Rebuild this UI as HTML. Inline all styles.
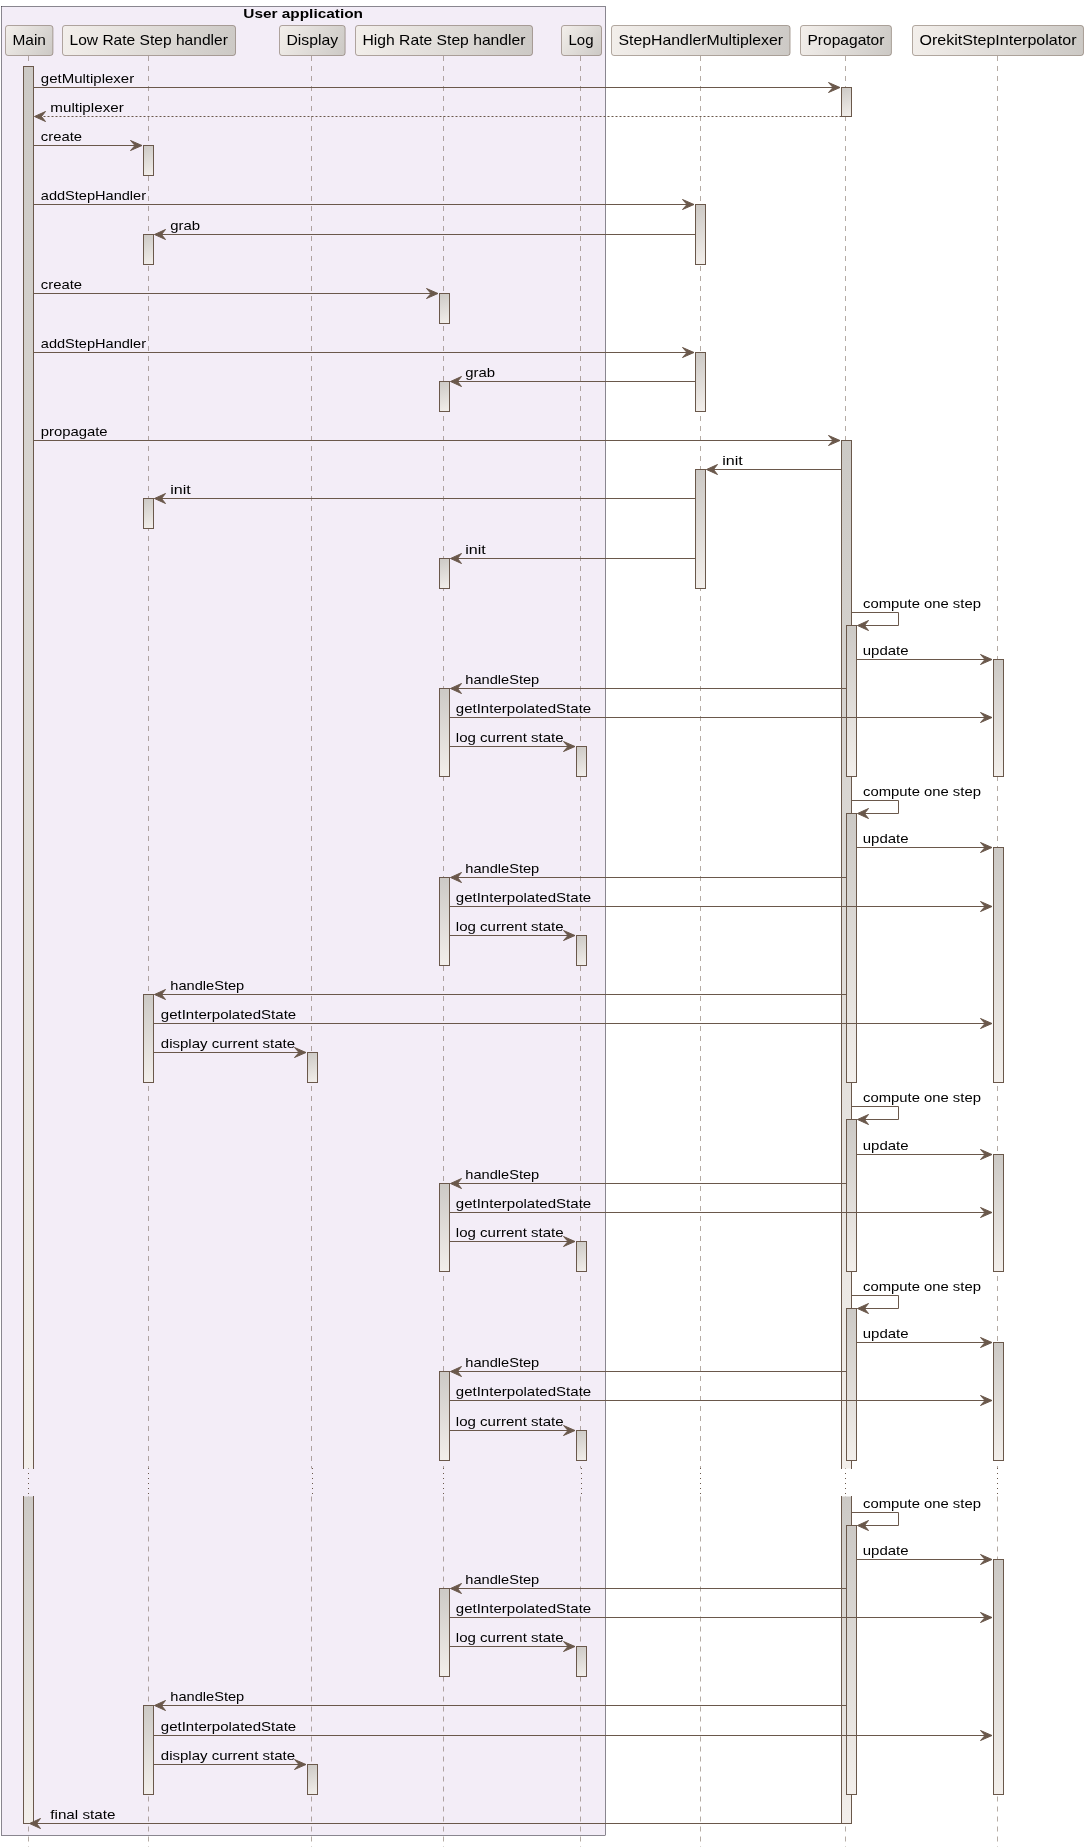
<!DOCTYPE html><html><head><meta charset="utf-8"><style>html,body{margin:0;padding:0;background:#fff;}svg{display:block;will-change:transform;}</style></head><body>
<svg width="1088" height="1847" viewBox="0 0 1088 1847">
<defs>
<linearGradient id="gp" x1="0%" y1="0%" x2="100%" y2="100%"><stop offset="0%" stop-color="#F3EFEB"/><stop offset="100%" stop-color="#CCC9C5"/></linearGradient>
<linearGradient id="gl" x1="0%" y1="0%" x2="100%" y2="100%"><stop offset="0%" stop-color="#CCC9C5"/><stop offset="100%" stop-color="#F3EFEB"/></linearGradient>
</defs>
<rect x="0" y="0" width="1088" height="1847" fill="#FFFFFF"/>
<rect x="1.5" y="6.5" width="604" height="1829" fill="#F3EDF7" stroke="#1B1625" stroke-width="0.5"/>
<text x="243.3" y="18" font-family='"Liberation Sans", sans-serif' font-size="13.5" font-weight="bold" fill="#000" textLength="119.67" lengthAdjust="spacingAndGlyphs">User application</text>
<line x1="28.5" y1="56" x2="28.5" y2="1468.5" stroke="#6A584B" stroke-width="0.5" stroke-dasharray="5,5"/>
<line x1="28.5" y1="1468" x2="28.5" y2="1496" stroke="#6A584B" stroke-width="1" stroke-dasharray="1,4"/>
<line x1="28.5" y1="1496.5" x2="28.5" y2="1847" stroke="#6A584B" stroke-width="0.5" stroke-dasharray="5,5"/>
<line x1="148.5" y1="56" x2="148.5" y2="1468.5" stroke="#6A584B" stroke-width="0.5" stroke-dasharray="5,5"/>
<line x1="148.5" y1="1468" x2="148.5" y2="1496" stroke="#6A584B" stroke-width="1" stroke-dasharray="1,4"/>
<line x1="148.5" y1="1496.5" x2="148.5" y2="1847" stroke="#6A584B" stroke-width="0.5" stroke-dasharray="5,5"/>
<line x1="311.5" y1="56" x2="311.5" y2="1468.5" stroke="#6A584B" stroke-width="0.5" stroke-dasharray="5,5"/>
<line x1="312.5" y1="1468" x2="312.5" y2="1496" stroke="#6A584B" stroke-width="1" stroke-dasharray="1,4"/>
<line x1="311.5" y1="1496.5" x2="311.5" y2="1847" stroke="#6A584B" stroke-width="0.5" stroke-dasharray="5,5"/>
<line x1="443.5" y1="56" x2="443.5" y2="1468.5" stroke="#6A584B" stroke-width="0.5" stroke-dasharray="5,5"/>
<line x1="443.5" y1="1468" x2="443.5" y2="1496" stroke="#6A584B" stroke-width="1" stroke-dasharray="1,4"/>
<line x1="443.5" y1="1496.5" x2="443.5" y2="1847" stroke="#6A584B" stroke-width="0.5" stroke-dasharray="5,5"/>
<line x1="580.5" y1="56" x2="580.5" y2="1468.5" stroke="#6A584B" stroke-width="0.5" stroke-dasharray="5,5"/>
<line x1="581.5" y1="1468" x2="581.5" y2="1496" stroke="#6A584B" stroke-width="1" stroke-dasharray="1,4"/>
<line x1="580.5" y1="1496.5" x2="580.5" y2="1847" stroke="#6A584B" stroke-width="0.5" stroke-dasharray="5,5"/>
<line x1="700.5" y1="56" x2="700.5" y2="1468.5" stroke="#6A584B" stroke-width="0.5" stroke-dasharray="5,5"/>
<line x1="700.5" y1="1468" x2="700.5" y2="1496" stroke="#6A584B" stroke-width="1" stroke-dasharray="1,4"/>
<line x1="700.5" y1="1496.5" x2="700.5" y2="1847" stroke="#6A584B" stroke-width="0.5" stroke-dasharray="5,5"/>
<line x1="845.5" y1="56" x2="845.5" y2="1468.5" stroke="#6A584B" stroke-width="0.5" stroke-dasharray="5,5"/>
<line x1="845.5" y1="1468" x2="845.5" y2="1496" stroke="#6A584B" stroke-width="1" stroke-dasharray="1,4"/>
<line x1="845.5" y1="1496.5" x2="845.5" y2="1847" stroke="#6A584B" stroke-width="0.5" stroke-dasharray="5,5"/>
<line x1="997.5" y1="56" x2="997.5" y2="1468.5" stroke="#6A584B" stroke-width="0.5" stroke-dasharray="5,5"/>
<line x1="997.5" y1="1468" x2="997.5" y2="1496" stroke="#6A584B" stroke-width="1" stroke-dasharray="1,4"/>
<line x1="997.5" y1="1496.5" x2="997.5" y2="1847" stroke="#6A584B" stroke-width="0.5" stroke-dasharray="5,5"/>
<linearGradient id="hpU" gradientUnits="userSpaceOnUse" x1="5.5" y1="25.5" x2="52.92" y2="55.5"><stop offset="0" stop-color="#F3EFEB"/><stop offset="1" stop-color="#CCC9C5"/></linearGradient>
<rect x="5.5" y="25.5" width="47.42" height="30" rx="2.5" ry="2.5" fill="url(#hpU)" stroke="#6A584B" stroke-width="0.5"/>
<text x="12.5" y="45" font-family='"Liberation Sans", sans-serif' font-size="14.5" fill="#000" textLength="33.42" lengthAdjust="spacingAndGlyphs">Main</text>
<linearGradient id="hpL" gradientUnits="userSpaceOnUse" x1="62.5" y1="25.5" x2="235.5" y2="55.5"><stop offset="0" stop-color="#F3EFEB"/><stop offset="1" stop-color="#CCC9C5"/></linearGradient>
<rect x="62.5" y="25.5" width="173.0" height="30" rx="2.5" ry="2.5" fill="url(#hpL)" stroke="#6A584B" stroke-width="0.5"/>
<text x="69.5" y="45" font-family='"Liberation Sans", sans-serif' font-size="14.5" fill="#000" textLength="158.36" lengthAdjust="spacingAndGlyphs">Low Rate Step handler</text>
<linearGradient id="hpD" gradientUnits="userSpaceOnUse" x1="279.5" y1="25.5" x2="345.11" y2="55.5"><stop offset="0" stop-color="#F3EFEB"/><stop offset="1" stop-color="#CCC9C5"/></linearGradient>
<rect x="279.5" y="25.5" width="65.61" height="30" rx="2.5" ry="2.5" fill="url(#hpD)" stroke="#6A584B" stroke-width="0.5"/>
<text x="286.5" y="45" font-family='"Liberation Sans", sans-serif' font-size="14.5" fill="#000" textLength="51.61" lengthAdjust="spacingAndGlyphs">Display</text>
<linearGradient id="hpH" gradientUnits="userSpaceOnUse" x1="355.5" y1="25.5" x2="532.48" y2="55.5"><stop offset="0" stop-color="#F3EFEB"/><stop offset="1" stop-color="#CCC9C5"/></linearGradient>
<rect x="355.5" y="25.5" width="176.98" height="30" rx="2.5" ry="2.5" fill="url(#hpH)" stroke="#6A584B" stroke-width="0.5"/>
<text x="362.5" y="45" font-family='"Liberation Sans", sans-serif' font-size="14.5" fill="#000" textLength="162.98" lengthAdjust="spacingAndGlyphs">High Rate Step handler</text>
<linearGradient id="hpG" gradientUnits="userSpaceOnUse" x1="561.5" y1="25.5" x2="601.5" y2="55.5"><stop offset="0" stop-color="#F3EFEB"/><stop offset="1" stop-color="#CCC9C5"/></linearGradient>
<rect x="561.5" y="25.5" width="40.0" height="30" rx="2.5" ry="2.5" fill="url(#hpG)" stroke="#6A584B" stroke-width="0.5"/>
<text x="568.5" y="45" font-family='"Liberation Sans", sans-serif' font-size="14.5" fill="#000" textLength="25.00" lengthAdjust="spacingAndGlyphs">Log</text>
<linearGradient id="hpS" gradientUnits="userSpaceOnUse" x1="611.5" y1="25.5" x2="790.06" y2="55.5"><stop offset="0" stop-color="#F3EFEB"/><stop offset="1" stop-color="#CCC9C5"/></linearGradient>
<rect x="611.5" y="25.5" width="178.56" height="30" rx="2.5" ry="2.5" fill="url(#hpS)" stroke="#6A584B" stroke-width="0.5"/>
<text x="618.5" y="45" font-family='"Liberation Sans", sans-serif' font-size="14.5" fill="#000" textLength="164.56" lengthAdjust="spacingAndGlyphs">StepHandlerMultiplexer</text>
<linearGradient id="hpP" gradientUnits="userSpaceOnUse" x1="800.5" y1="25.5" x2="891.42" y2="55.5"><stop offset="0" stop-color="#F3EFEB"/><stop offset="1" stop-color="#CCC9C5"/></linearGradient>
<rect x="800.5" y="25.5" width="90.92" height="30" rx="2.5" ry="2.5" fill="url(#hpP)" stroke="#6A584B" stroke-width="0.5"/>
<text x="807.5" y="45" font-family='"Liberation Sans", sans-serif' font-size="14.5" fill="#000" textLength="76.92" lengthAdjust="spacingAndGlyphs">Propagator</text>
<linearGradient id="hpO" gradientUnits="userSpaceOnUse" x1="912.5" y1="25.5" x2="1083.48" y2="55.5"><stop offset="0" stop-color="#F3EFEB"/><stop offset="1" stop-color="#CCC9C5"/></linearGradient>
<rect x="912.5" y="25.5" width="170.98" height="30" rx="2.5" ry="2.5" fill="url(#hpO)" stroke="#6A584B" stroke-width="0.5"/>
<text x="919.5" y="45" font-family='"Liberation Sans", sans-serif' font-size="14.5" fill="#000" textLength="156.98" lengthAdjust="spacingAndGlyphs">OrekitStepInterpolator</text>
<linearGradient id="gb57" gradientUnits="userSpaceOnUse" x1="23.5" y1="66.5" x2="33.5" y2="1468.5"><stop offset="0" stop-color="#CCC9C5"/><stop offset="1" stop-color="#F3EFEB"/></linearGradient>
<rect x="23.5" y="66.5" width="10" height="1402.0" fill="url(#gb57)" stroke="none"/>
<path d="M23.5,66.5 L23.5,1468.5 M33.5,66.5 L33.5,1468.5 M23.5,66.5 L33.5,66.5" fill="none" stroke="#6A584B" stroke-width="1" stroke-linecap="square"/>
<linearGradient id="gb60" gradientUnits="userSpaceOnUse" x1="23.5" y1="1496.5" x2="33.5" y2="1823.5"><stop offset="0" stop-color="#CCC9C5"/><stop offset="1" stop-color="#F3EFEB"/></linearGradient>
<rect x="23.5" y="1496.5" width="10" height="327.0" fill="url(#gb60)" stroke="none"/>
<path d="M23.5,1496.5 L23.5,1823.5 M33.5,1496.5 L33.5,1823.5 M23.5,1823.5 L33.5,1823.5" fill="none" stroke="#6A584B" stroke-width="1" stroke-linecap="square"/>
<linearGradient id="gb63" gradientUnits="userSpaceOnUse" x1="841.5" y1="87.5" x2="851.5" y2="116.5"><stop offset="0" stop-color="#CCC9C5"/><stop offset="1" stop-color="#F3EFEB"/></linearGradient>
<rect x="841.5" y="87.5" width="10" height="29.0" fill="url(#gb63)" stroke="none"/>
<path d="M841.5,87.5 L841.5,116.5 M851.5,87.5 L851.5,116.5 M841.5,87.5 L851.5,87.5 M841.5,116.5 L851.5,116.5" fill="none" stroke="#6A584B" stroke-width="1" stroke-linecap="square"/>
<linearGradient id="gb66" gradientUnits="userSpaceOnUse" x1="143.5" y1="145.5" x2="153.5" y2="175.5"><stop offset="0" stop-color="#CCC9C5"/><stop offset="1" stop-color="#F3EFEB"/></linearGradient>
<rect x="143.5" y="145.5" width="10" height="30.0" fill="url(#gb66)" stroke="none"/>
<path d="M143.5,145.5 L143.5,175.5 M153.5,145.5 L153.5,175.5 M143.5,145.5 L153.5,145.5 M143.5,175.5 L153.5,175.5" fill="none" stroke="#6A584B" stroke-width="1" stroke-linecap="square"/>
<linearGradient id="gb69" gradientUnits="userSpaceOnUse" x1="695.5" y1="204.5" x2="705.5" y2="264.5"><stop offset="0" stop-color="#CCC9C5"/><stop offset="1" stop-color="#F3EFEB"/></linearGradient>
<rect x="695.5" y="204.5" width="10" height="60.0" fill="url(#gb69)" stroke="none"/>
<path d="M695.5,204.5 L695.5,264.5 M705.5,204.5 L705.5,264.5 M695.5,204.5 L705.5,204.5 M695.5,264.5 L705.5,264.5" fill="none" stroke="#6A584B" stroke-width="1" stroke-linecap="square"/>
<linearGradient id="gb72" gradientUnits="userSpaceOnUse" x1="143.5" y1="234.5" x2="153.5" y2="264.5"><stop offset="0" stop-color="#CCC9C5"/><stop offset="1" stop-color="#F3EFEB"/></linearGradient>
<rect x="143.5" y="234.5" width="10" height="30.0" fill="url(#gb72)" stroke="none"/>
<path d="M143.5,234.5 L143.5,264.5 M153.5,234.5 L153.5,264.5 M143.5,234.5 L153.5,234.5 M143.5,264.5 L153.5,264.5" fill="none" stroke="#6A584B" stroke-width="1" stroke-linecap="square"/>
<linearGradient id="gb75" gradientUnits="userSpaceOnUse" x1="439.5" y1="293.5" x2="449.5" y2="323.5"><stop offset="0" stop-color="#CCC9C5"/><stop offset="1" stop-color="#F3EFEB"/></linearGradient>
<rect x="439.5" y="293.5" width="10" height="30.0" fill="url(#gb75)" stroke="none"/>
<path d="M439.5,293.5 L439.5,323.5 M449.5,293.5 L449.5,323.5 M439.5,293.5 L449.5,293.5 M439.5,323.5 L449.5,323.5" fill="none" stroke="#6A584B" stroke-width="1" stroke-linecap="square"/>
<linearGradient id="gb78" gradientUnits="userSpaceOnUse" x1="695.5" y1="352.5" x2="705.5" y2="411.5"><stop offset="0" stop-color="#CCC9C5"/><stop offset="1" stop-color="#F3EFEB"/></linearGradient>
<rect x="695.5" y="352.5" width="10" height="59.0" fill="url(#gb78)" stroke="none"/>
<path d="M695.5,352.5 L695.5,411.5 M705.5,352.5 L705.5,411.5 M695.5,352.5 L705.5,352.5 M695.5,411.5 L705.5,411.5" fill="none" stroke="#6A584B" stroke-width="1" stroke-linecap="square"/>
<linearGradient id="gb81" gradientUnits="userSpaceOnUse" x1="439.5" y1="381.5" x2="449.5" y2="411.5"><stop offset="0" stop-color="#CCC9C5"/><stop offset="1" stop-color="#F3EFEB"/></linearGradient>
<rect x="439.5" y="381.5" width="10" height="30.0" fill="url(#gb81)" stroke="none"/>
<path d="M439.5,381.5 L439.5,411.5 M449.5,381.5 L449.5,411.5 M439.5,381.5 L449.5,381.5 M439.5,411.5 L449.5,411.5" fill="none" stroke="#6A584B" stroke-width="1" stroke-linecap="square"/>
<linearGradient id="gb84" gradientUnits="userSpaceOnUse" x1="841.5" y1="440.5" x2="851.5" y2="1468.5"><stop offset="0" stop-color="#CCC9C5"/><stop offset="1" stop-color="#F3EFEB"/></linearGradient>
<rect x="841.5" y="440.5" width="10" height="1028.0" fill="url(#gb84)" stroke="none"/>
<path d="M841.5,440.5 L841.5,1468.5 M851.5,440.5 L851.5,1468.5 M841.5,440.5 L851.5,440.5" fill="none" stroke="#6A584B" stroke-width="1" stroke-linecap="square"/>
<linearGradient id="gb87" gradientUnits="userSpaceOnUse" x1="841.5" y1="1496.5" x2="851.5" y2="1823.5"><stop offset="0" stop-color="#CCC9C5"/><stop offset="1" stop-color="#F3EFEB"/></linearGradient>
<rect x="841.5" y="1496.5" width="10" height="327.0" fill="url(#gb87)" stroke="none"/>
<path d="M841.5,1496.5 L841.5,1823.5 M851.5,1496.5 L851.5,1823.5 M841.5,1823.5 L851.5,1823.5" fill="none" stroke="#6A584B" stroke-width="1" stroke-linecap="square"/>
<linearGradient id="gb90" gradientUnits="userSpaceOnUse" x1="695.5" y1="469.5" x2="705.5" y2="588.5"><stop offset="0" stop-color="#CCC9C5"/><stop offset="1" stop-color="#F3EFEB"/></linearGradient>
<rect x="695.5" y="469.5" width="10" height="119.0" fill="url(#gb90)" stroke="none"/>
<path d="M695.5,469.5 L695.5,588.5 M705.5,469.5 L705.5,588.5 M695.5,469.5 L705.5,469.5 M695.5,588.5 L705.5,588.5" fill="none" stroke="#6A584B" stroke-width="1" stroke-linecap="square"/>
<linearGradient id="gb93" gradientUnits="userSpaceOnUse" x1="143.5" y1="498.5" x2="153.5" y2="528.5"><stop offset="0" stop-color="#CCC9C5"/><stop offset="1" stop-color="#F3EFEB"/></linearGradient>
<rect x="143.5" y="498.5" width="10" height="30.0" fill="url(#gb93)" stroke="none"/>
<path d="M143.5,498.5 L143.5,528.5 M153.5,498.5 L153.5,528.5 M143.5,498.5 L153.5,498.5 M143.5,528.5 L153.5,528.5" fill="none" stroke="#6A584B" stroke-width="1" stroke-linecap="square"/>
<linearGradient id="gb96" gradientUnits="userSpaceOnUse" x1="439.5" y1="558.5" x2="449.5" y2="588.5"><stop offset="0" stop-color="#CCC9C5"/><stop offset="1" stop-color="#F3EFEB"/></linearGradient>
<rect x="439.5" y="558.5" width="10" height="30.0" fill="url(#gb96)" stroke="none"/>
<path d="M439.5,558.5 L439.5,588.5 M449.5,558.5 L449.5,588.5 M439.5,558.5 L449.5,558.5 M439.5,588.5 L449.5,588.5" fill="none" stroke="#6A584B" stroke-width="1" stroke-linecap="square"/>
<linearGradient id="gb99" gradientUnits="userSpaceOnUse" x1="993.5" y1="659.5" x2="1003.5" y2="776.5"><stop offset="0" stop-color="#CCC9C5"/><stop offset="1" stop-color="#F3EFEB"/></linearGradient>
<rect x="993.5" y="659.5" width="10" height="117.0" fill="url(#gb99)" stroke="none"/>
<path d="M993.5,659.5 L993.5,776.5 M1003.5,659.5 L1003.5,776.5 M993.5,659.5 L1003.5,659.5 M993.5,776.5 L1003.5,776.5" fill="none" stroke="#6A584B" stroke-width="1" stroke-linecap="square"/>
<linearGradient id="gb102" gradientUnits="userSpaceOnUse" x1="439.5" y1="688.5" x2="449.5" y2="776.5"><stop offset="0" stop-color="#CCC9C5"/><stop offset="1" stop-color="#F3EFEB"/></linearGradient>
<rect x="439.5" y="688.5" width="10" height="88.0" fill="url(#gb102)" stroke="none"/>
<path d="M439.5,688.5 L439.5,776.5 M449.5,688.5 L449.5,776.5 M439.5,688.5 L449.5,688.5 M439.5,776.5 L449.5,776.5" fill="none" stroke="#6A584B" stroke-width="1" stroke-linecap="square"/>
<linearGradient id="gb105" gradientUnits="userSpaceOnUse" x1="576.5" y1="746.5" x2="586.5" y2="776.5"><stop offset="0" stop-color="#CCC9C5"/><stop offset="1" stop-color="#F3EFEB"/></linearGradient>
<rect x="576.5" y="746.5" width="10" height="30.0" fill="url(#gb105)" stroke="none"/>
<path d="M576.5,746.5 L576.5,776.5 M586.5,746.5 L586.5,776.5 M576.5,746.5 L586.5,746.5 M576.5,776.5 L586.5,776.5" fill="none" stroke="#6A584B" stroke-width="1" stroke-linecap="square"/>
<linearGradient id="gb108" gradientUnits="userSpaceOnUse" x1="993.5" y1="847.5" x2="1003.5" y2="1082.5"><stop offset="0" stop-color="#CCC9C5"/><stop offset="1" stop-color="#F3EFEB"/></linearGradient>
<rect x="993.5" y="847.5" width="10" height="235.0" fill="url(#gb108)" stroke="none"/>
<path d="M993.5,847.5 L993.5,1082.5 M1003.5,847.5 L1003.5,1082.5 M993.5,847.5 L1003.5,847.5 M993.5,1082.5 L1003.5,1082.5" fill="none" stroke="#6A584B" stroke-width="1" stroke-linecap="square"/>
<linearGradient id="gb111" gradientUnits="userSpaceOnUse" x1="439.5" y1="877.5" x2="449.5" y2="965.5"><stop offset="0" stop-color="#CCC9C5"/><stop offset="1" stop-color="#F3EFEB"/></linearGradient>
<rect x="439.5" y="877.5" width="10" height="88.0" fill="url(#gb111)" stroke="none"/>
<path d="M439.5,877.5 L439.5,965.5 M449.5,877.5 L449.5,965.5 M439.5,877.5 L449.5,877.5 M439.5,965.5 L449.5,965.5" fill="none" stroke="#6A584B" stroke-width="1" stroke-linecap="square"/>
<linearGradient id="gb114" gradientUnits="userSpaceOnUse" x1="576.5" y1="935.5" x2="586.5" y2="965.5"><stop offset="0" stop-color="#CCC9C5"/><stop offset="1" stop-color="#F3EFEB"/></linearGradient>
<rect x="576.5" y="935.5" width="10" height="30.0" fill="url(#gb114)" stroke="none"/>
<path d="M576.5,935.5 L576.5,965.5 M586.5,935.5 L586.5,965.5 M576.5,935.5 L586.5,935.5 M576.5,965.5 L586.5,965.5" fill="none" stroke="#6A584B" stroke-width="1" stroke-linecap="square"/>
<linearGradient id="gb117" gradientUnits="userSpaceOnUse" x1="143.5" y1="994.5" x2="153.5" y2="1082.5"><stop offset="0" stop-color="#CCC9C5"/><stop offset="1" stop-color="#F3EFEB"/></linearGradient>
<rect x="143.5" y="994.5" width="10" height="88.0" fill="url(#gb117)" stroke="none"/>
<path d="M143.5,994.5 L143.5,1082.5 M153.5,994.5 L153.5,1082.5 M143.5,994.5 L153.5,994.5 M143.5,1082.5 L153.5,1082.5" fill="none" stroke="#6A584B" stroke-width="1" stroke-linecap="square"/>
<linearGradient id="gb120" gradientUnits="userSpaceOnUse" x1="307.5" y1="1052.5" x2="317.5" y2="1082.5"><stop offset="0" stop-color="#CCC9C5"/><stop offset="1" stop-color="#F3EFEB"/></linearGradient>
<rect x="307.5" y="1052.5" width="10" height="30.0" fill="url(#gb120)" stroke="none"/>
<path d="M307.5,1052.5 L307.5,1082.5 M317.5,1052.5 L317.5,1082.5 M307.5,1052.5 L317.5,1052.5 M307.5,1082.5 L317.5,1082.5" fill="none" stroke="#6A584B" stroke-width="1" stroke-linecap="square"/>
<linearGradient id="gb123" gradientUnits="userSpaceOnUse" x1="993.5" y1="1154.5" x2="1003.5" y2="1271.5"><stop offset="0" stop-color="#CCC9C5"/><stop offset="1" stop-color="#F3EFEB"/></linearGradient>
<rect x="993.5" y="1154.5" width="10" height="117.0" fill="url(#gb123)" stroke="none"/>
<path d="M993.5,1154.5 L993.5,1271.5 M1003.5,1154.5 L1003.5,1271.5 M993.5,1154.5 L1003.5,1154.5 M993.5,1271.5 L1003.5,1271.5" fill="none" stroke="#6A584B" stroke-width="1" stroke-linecap="square"/>
<linearGradient id="gb126" gradientUnits="userSpaceOnUse" x1="439.5" y1="1183.5" x2="449.5" y2="1271.5"><stop offset="0" stop-color="#CCC9C5"/><stop offset="1" stop-color="#F3EFEB"/></linearGradient>
<rect x="439.5" y="1183.5" width="10" height="88.0" fill="url(#gb126)" stroke="none"/>
<path d="M439.5,1183.5 L439.5,1271.5 M449.5,1183.5 L449.5,1271.5 M439.5,1183.5 L449.5,1183.5 M439.5,1271.5 L449.5,1271.5" fill="none" stroke="#6A584B" stroke-width="1" stroke-linecap="square"/>
<linearGradient id="gb129" gradientUnits="userSpaceOnUse" x1="576.5" y1="1241.5" x2="586.5" y2="1271.5"><stop offset="0" stop-color="#CCC9C5"/><stop offset="1" stop-color="#F3EFEB"/></linearGradient>
<rect x="576.5" y="1241.5" width="10" height="30.0" fill="url(#gb129)" stroke="none"/>
<path d="M576.5,1241.5 L576.5,1271.5 M586.5,1241.5 L586.5,1271.5 M576.5,1241.5 L586.5,1241.5 M576.5,1271.5 L586.5,1271.5" fill="none" stroke="#6A584B" stroke-width="1" stroke-linecap="square"/>
<linearGradient id="gb132" gradientUnits="userSpaceOnUse" x1="993.5" y1="1342.5" x2="1003.5" y2="1460.5"><stop offset="0" stop-color="#CCC9C5"/><stop offset="1" stop-color="#F3EFEB"/></linearGradient>
<rect x="993.5" y="1342.5" width="10" height="118.0" fill="url(#gb132)" stroke="none"/>
<path d="M993.5,1342.5 L993.5,1460.5 M1003.5,1342.5 L1003.5,1460.5 M993.5,1342.5 L1003.5,1342.5 M993.5,1460.5 L1003.5,1460.5" fill="none" stroke="#6A584B" stroke-width="1" stroke-linecap="square"/>
<linearGradient id="gb135" gradientUnits="userSpaceOnUse" x1="439.5" y1="1371.5" x2="449.5" y2="1460.5"><stop offset="0" stop-color="#CCC9C5"/><stop offset="1" stop-color="#F3EFEB"/></linearGradient>
<rect x="439.5" y="1371.5" width="10" height="89.0" fill="url(#gb135)" stroke="none"/>
<path d="M439.5,1371.5 L439.5,1460.5 M449.5,1371.5 L449.5,1460.5 M439.5,1371.5 L449.5,1371.5 M439.5,1460.5 L449.5,1460.5" fill="none" stroke="#6A584B" stroke-width="1" stroke-linecap="square"/>
<linearGradient id="gb138" gradientUnits="userSpaceOnUse" x1="576.5" y1="1430.5" x2="586.5" y2="1460.5"><stop offset="0" stop-color="#CCC9C5"/><stop offset="1" stop-color="#F3EFEB"/></linearGradient>
<rect x="576.5" y="1430.5" width="10" height="30.0" fill="url(#gb138)" stroke="none"/>
<path d="M576.5,1430.5 L576.5,1460.5 M586.5,1430.5 L586.5,1460.5 M576.5,1430.5 L586.5,1430.5 M576.5,1460.5 L586.5,1460.5" fill="none" stroke="#6A584B" stroke-width="1" stroke-linecap="square"/>
<linearGradient id="gb141" gradientUnits="userSpaceOnUse" x1="993.5" y1="1559.5" x2="1003.5" y2="1794.5"><stop offset="0" stop-color="#CCC9C5"/><stop offset="1" stop-color="#F3EFEB"/></linearGradient>
<rect x="993.5" y="1559.5" width="10" height="235.0" fill="url(#gb141)" stroke="none"/>
<path d="M993.5,1559.5 L993.5,1794.5 M1003.5,1559.5 L1003.5,1794.5 M993.5,1559.5 L1003.5,1559.5 M993.5,1794.5 L1003.5,1794.5" fill="none" stroke="#6A584B" stroke-width="1" stroke-linecap="square"/>
<linearGradient id="gb144" gradientUnits="userSpaceOnUse" x1="439.5" y1="1588.5" x2="449.5" y2="1676.5"><stop offset="0" stop-color="#CCC9C5"/><stop offset="1" stop-color="#F3EFEB"/></linearGradient>
<rect x="439.5" y="1588.5" width="10" height="88.0" fill="url(#gb144)" stroke="none"/>
<path d="M439.5,1588.5 L439.5,1676.5 M449.5,1588.5 L449.5,1676.5 M439.5,1588.5 L449.5,1588.5 M439.5,1676.5 L449.5,1676.5" fill="none" stroke="#6A584B" stroke-width="1" stroke-linecap="square"/>
<linearGradient id="gb147" gradientUnits="userSpaceOnUse" x1="576.5" y1="1646.5" x2="586.5" y2="1676.5"><stop offset="0" stop-color="#CCC9C5"/><stop offset="1" stop-color="#F3EFEB"/></linearGradient>
<rect x="576.5" y="1646.5" width="10" height="30.0" fill="url(#gb147)" stroke="none"/>
<path d="M576.5,1646.5 L576.5,1676.5 M586.5,1646.5 L586.5,1676.5 M576.5,1646.5 L586.5,1646.5 M576.5,1676.5 L586.5,1676.5" fill="none" stroke="#6A584B" stroke-width="1" stroke-linecap="square"/>
<linearGradient id="gb150" gradientUnits="userSpaceOnUse" x1="143.5" y1="1705.5" x2="153.5" y2="1794.5"><stop offset="0" stop-color="#CCC9C5"/><stop offset="1" stop-color="#F3EFEB"/></linearGradient>
<rect x="143.5" y="1705.5" width="10" height="89.0" fill="url(#gb150)" stroke="none"/>
<path d="M143.5,1705.5 L143.5,1794.5 M153.5,1705.5 L153.5,1794.5 M143.5,1705.5 L153.5,1705.5 M143.5,1794.5 L153.5,1794.5" fill="none" stroke="#6A584B" stroke-width="1" stroke-linecap="square"/>
<linearGradient id="gb153" gradientUnits="userSpaceOnUse" x1="307.5" y1="1764.5" x2="317.5" y2="1794.5"><stop offset="0" stop-color="#CCC9C5"/><stop offset="1" stop-color="#F3EFEB"/></linearGradient>
<rect x="307.5" y="1764.5" width="10" height="30.0" fill="url(#gb153)" stroke="none"/>
<path d="M307.5,1764.5 L307.5,1794.5 M317.5,1764.5 L317.5,1794.5 M307.5,1764.5 L317.5,1764.5 M307.5,1794.5 L317.5,1794.5" fill="none" stroke="#6A584B" stroke-width="1" stroke-linecap="square"/>
<linearGradient id="gb156" gradientUnits="userSpaceOnUse" x1="846.5" y1="625.5" x2="856.5" y2="776.5"><stop offset="0" stop-color="#CCC9C5"/><stop offset="1" stop-color="#F3EFEB"/></linearGradient>
<rect x="846.5" y="625.5" width="10" height="151.0" fill="url(#gb156)" stroke="none"/>
<path d="M846.5,625.5 L846.5,776.5 M856.5,625.5 L856.5,776.5 M846.5,625.5 L856.5,625.5 M846.5,776.5 L856.5,776.5" fill="none" stroke="#6A584B" stroke-width="1" stroke-linecap="square"/>
<linearGradient id="gb159" gradientUnits="userSpaceOnUse" x1="846.5" y1="813.5" x2="856.5" y2="1082.5"><stop offset="0" stop-color="#CCC9C5"/><stop offset="1" stop-color="#F3EFEB"/></linearGradient>
<rect x="846.5" y="813.5" width="10" height="269.0" fill="url(#gb159)" stroke="none"/>
<path d="M846.5,813.5 L846.5,1082.5 M856.5,813.5 L856.5,1082.5 M846.5,813.5 L856.5,813.5 M846.5,1082.5 L856.5,1082.5" fill="none" stroke="#6A584B" stroke-width="1" stroke-linecap="square"/>
<linearGradient id="gb162" gradientUnits="userSpaceOnUse" x1="846.5" y1="1119.5" x2="856.5" y2="1271.5"><stop offset="0" stop-color="#CCC9C5"/><stop offset="1" stop-color="#F3EFEB"/></linearGradient>
<rect x="846.5" y="1119.5" width="10" height="152.0" fill="url(#gb162)" stroke="none"/>
<path d="M846.5,1119.5 L846.5,1271.5 M856.5,1119.5 L856.5,1271.5 M846.5,1119.5 L856.5,1119.5 M846.5,1271.5 L856.5,1271.5" fill="none" stroke="#6A584B" stroke-width="1" stroke-linecap="square"/>
<linearGradient id="gb165" gradientUnits="userSpaceOnUse" x1="846.5" y1="1308.5" x2="856.5" y2="1460.5"><stop offset="0" stop-color="#CCC9C5"/><stop offset="1" stop-color="#F3EFEB"/></linearGradient>
<rect x="846.5" y="1308.5" width="10" height="152.0" fill="url(#gb165)" stroke="none"/>
<path d="M846.5,1308.5 L846.5,1460.5 M856.5,1308.5 L856.5,1460.5 M846.5,1308.5 L856.5,1308.5 M846.5,1460.5 L856.5,1460.5" fill="none" stroke="#6A584B" stroke-width="1" stroke-linecap="square"/>
<linearGradient id="gb168" gradientUnits="userSpaceOnUse" x1="846.5" y1="1525.5" x2="856.5" y2="1794.5"><stop offset="0" stop-color="#CCC9C5"/><stop offset="1" stop-color="#F3EFEB"/></linearGradient>
<rect x="846.5" y="1525.5" width="10" height="269.0" fill="url(#gb168)" stroke="none"/>
<path d="M846.5,1525.5 L846.5,1794.5 M856.5,1525.5 L856.5,1794.5 M846.5,1525.5 L856.5,1525.5 M846.5,1794.5 L856.5,1794.5" fill="none" stroke="#6A584B" stroke-width="1" stroke-linecap="square"/>
<line x1="33.5" y1="87.5" x2="840.0" y2="87.5" stroke="#6A584B" stroke-width="1"/>
<polygon points="828.5,82.5 840.0,87.5 828.5,92.5 833.0,87.5" fill="#6A584B" stroke="#6A584B" stroke-width="1"/>
<text x="40.80" y="82.6" font-family='"Liberation Sans", sans-serif' font-size="13.4" fill="#000" textLength="93.36" lengthAdjust="spacingAndGlyphs">getMultiplexer</text>
<line x1="841.5" y1="116.5" x2="34.5" y2="116.5" stroke="#6A584B" stroke-width="1" stroke-dasharray="2,2"/>
<polygon points="45.5,111.5 34.5,116.5 45.5,121.5 41.5,116.5" fill="#6A584B" stroke="#6A584B" stroke-width="1"/>
<text x="50.30" y="111.6" font-family='"Liberation Sans", sans-serif' font-size="13.4" fill="#000" textLength="73.45" lengthAdjust="spacingAndGlyphs">multiplexer</text>
<line x1="33.5" y1="145.5" x2="142.0" y2="145.5" stroke="#6A584B" stroke-width="1"/>
<polygon points="130.5,140.5 142.0,145.5 130.5,150.5 135.0,145.5" fill="#6A584B" stroke="#6A584B" stroke-width="1"/>
<text x="40.80" y="140.6" font-family='"Liberation Sans", sans-serif' font-size="13.4" fill="#000" textLength="41.27" lengthAdjust="spacingAndGlyphs">create</text>
<line x1="33.5" y1="204.5" x2="694.0" y2="204.5" stroke="#6A584B" stroke-width="1"/>
<polygon points="682.5,199.5 694.0,204.5 682.5,209.5 687.0,204.5" fill="#6A584B" stroke="#6A584B" stroke-width="1"/>
<text x="40.80" y="199.6" font-family='"Liberation Sans", sans-serif' font-size="13.4" fill="#000" textLength="105.25" lengthAdjust="spacingAndGlyphs">addStepHandler</text>
<line x1="695.5" y1="234.5" x2="154.5" y2="234.5" stroke="#6A584B" stroke-width="1"/>
<polygon points="165.5,229.5 154.5,234.5 165.5,239.5 161.5,234.5" fill="#6A584B" stroke="#6A584B" stroke-width="1"/>
<text x="170.30" y="229.6" font-family='"Liberation Sans", sans-serif' font-size="13.4" fill="#000" textLength="29.81" lengthAdjust="spacingAndGlyphs">grab</text>
<line x1="33.5" y1="293.5" x2="438.0" y2="293.5" stroke="#6A584B" stroke-width="1"/>
<polygon points="426.5,288.5 438.0,293.5 426.5,298.5 431.0,293.5" fill="#6A584B" stroke="#6A584B" stroke-width="1"/>
<text x="40.80" y="288.6" font-family='"Liberation Sans", sans-serif' font-size="13.4" fill="#000" textLength="41.27" lengthAdjust="spacingAndGlyphs">create</text>
<line x1="33.5" y1="352.5" x2="694.0" y2="352.5" stroke="#6A584B" stroke-width="1"/>
<polygon points="682.5,347.5 694.0,352.5 682.5,357.5 687.0,352.5" fill="#6A584B" stroke="#6A584B" stroke-width="1"/>
<text x="40.80" y="347.6" font-family='"Liberation Sans", sans-serif' font-size="13.4" fill="#000" textLength="105.25" lengthAdjust="spacingAndGlyphs">addStepHandler</text>
<line x1="695.5" y1="381.5" x2="450.5" y2="381.5" stroke="#6A584B" stroke-width="1"/>
<polygon points="461.5,376.5 450.5,381.5 461.5,386.5 457.5,381.5" fill="#6A584B" stroke="#6A584B" stroke-width="1"/>
<text x="465.30" y="376.6" font-family='"Liberation Sans", sans-serif' font-size="13.4" fill="#000" textLength="29.81" lengthAdjust="spacingAndGlyphs">grab</text>
<line x1="33.5" y1="440.5" x2="840.0" y2="440.5" stroke="#6A584B" stroke-width="1"/>
<polygon points="828.5,435.5 840.0,440.5 828.5,445.5 833.0,440.5" fill="#6A584B" stroke="#6A584B" stroke-width="1"/>
<text x="40.80" y="435.6" font-family='"Liberation Sans", sans-serif' font-size="13.4" fill="#000" textLength="66.80" lengthAdjust="spacingAndGlyphs">propagate</text>
<line x1="841.5" y1="469.5" x2="706.5" y2="469.5" stroke="#6A584B" stroke-width="1"/>
<polygon points="717.5,464.5 706.5,469.5 717.5,474.5 713.5,469.5" fill="#6A584B" stroke="#6A584B" stroke-width="1"/>
<text x="722.30" y="464.6" font-family='"Liberation Sans", sans-serif' font-size="13.4" fill="#000" textLength="20.55" lengthAdjust="spacingAndGlyphs">init</text>
<line x1="695.5" y1="498.5" x2="154.5" y2="498.5" stroke="#6A584B" stroke-width="1"/>
<polygon points="165.5,493.5 154.5,498.5 165.5,503.5 161.5,498.5" fill="#6A584B" stroke="#6A584B" stroke-width="1"/>
<text x="170.30" y="493.6" font-family='"Liberation Sans", sans-serif' font-size="13.4" fill="#000" textLength="20.55" lengthAdjust="spacingAndGlyphs">init</text>
<line x1="695.5" y1="558.5" x2="450.5" y2="558.5" stroke="#6A584B" stroke-width="1"/>
<polygon points="461.5,553.5 450.5,558.5 461.5,563.5 457.5,558.5" fill="#6A584B" stroke="#6A584B" stroke-width="1"/>
<text x="465.30" y="553.6" font-family='"Liberation Sans", sans-serif' font-size="13.4" fill="#000" textLength="20.55" lengthAdjust="spacingAndGlyphs">init</text>
<line x1="856.5" y1="659.5" x2="992.0" y2="659.5" stroke="#6A584B" stroke-width="1"/>
<polygon points="980.5,654.5 992.0,659.5 980.5,664.5 985.0,659.5" fill="#6A584B" stroke="#6A584B" stroke-width="1"/>
<text x="862.80" y="654.6" font-family='"Liberation Sans", sans-serif' font-size="13.4" fill="#000" textLength="45.80" lengthAdjust="spacingAndGlyphs">update</text>
<line x1="846.5" y1="688.5" x2="450.5" y2="688.5" stroke="#6A584B" stroke-width="1"/>
<polygon points="461.5,683.5 450.5,688.5 461.5,693.5 457.5,688.5" fill="#6A584B" stroke="#6A584B" stroke-width="1"/>
<text x="465.30" y="683.6" font-family='"Liberation Sans", sans-serif' font-size="13.4" fill="#000" textLength="73.89" lengthAdjust="spacingAndGlyphs">handleStep</text>
<line x1="449.5" y1="717.5" x2="992.0" y2="717.5" stroke="#6A584B" stroke-width="1"/>
<polygon points="980.5,712.5 992.0,717.5 980.5,722.5 985.0,717.5" fill="#6A584B" stroke="#6A584B" stroke-width="1"/>
<text x="455.80" y="712.6" font-family='"Liberation Sans", sans-serif' font-size="13.4" fill="#000" textLength="135.38" lengthAdjust="spacingAndGlyphs">getInterpolatedState</text>
<line x1="449.5" y1="746.5" x2="575.0" y2="746.5" stroke="#6A584B" stroke-width="1"/>
<polygon points="563.5,741.5 575.0,746.5 563.5,751.5 568.0,746.5" fill="#6A584B" stroke="#6A584B" stroke-width="1"/>
<text x="455.80" y="741.6" font-family='"Liberation Sans", sans-serif' font-size="13.4" fill="#000" textLength="107.86" lengthAdjust="spacingAndGlyphs">log current state</text>
<line x1="856.5" y1="847.5" x2="992.0" y2="847.5" stroke="#6A584B" stroke-width="1"/>
<polygon points="980.5,842.5 992.0,847.5 980.5,852.5 985.0,847.5" fill="#6A584B" stroke="#6A584B" stroke-width="1"/>
<text x="862.80" y="842.6" font-family='"Liberation Sans", sans-serif' font-size="13.4" fill="#000" textLength="45.80" lengthAdjust="spacingAndGlyphs">update</text>
<line x1="846.5" y1="877.5" x2="450.5" y2="877.5" stroke="#6A584B" stroke-width="1"/>
<polygon points="461.5,872.5 450.5,877.5 461.5,882.5 457.5,877.5" fill="#6A584B" stroke="#6A584B" stroke-width="1"/>
<text x="465.30" y="872.6" font-family='"Liberation Sans", sans-serif' font-size="13.4" fill="#000" textLength="73.89" lengthAdjust="spacingAndGlyphs">handleStep</text>
<line x1="449.5" y1="906.5" x2="992.0" y2="906.5" stroke="#6A584B" stroke-width="1"/>
<polygon points="980.5,901.5 992.0,906.5 980.5,911.5 985.0,906.5" fill="#6A584B" stroke="#6A584B" stroke-width="1"/>
<text x="455.80" y="901.6" font-family='"Liberation Sans", sans-serif' font-size="13.4" fill="#000" textLength="135.38" lengthAdjust="spacingAndGlyphs">getInterpolatedState</text>
<line x1="449.5" y1="935.5" x2="575.0" y2="935.5" stroke="#6A584B" stroke-width="1"/>
<polygon points="563.5,930.5 575.0,935.5 563.5,940.5 568.0,935.5" fill="#6A584B" stroke="#6A584B" stroke-width="1"/>
<text x="455.80" y="930.6" font-family='"Liberation Sans", sans-serif' font-size="13.4" fill="#000" textLength="107.86" lengthAdjust="spacingAndGlyphs">log current state</text>
<line x1="846.5" y1="994.5" x2="154.5" y2="994.5" stroke="#6A584B" stroke-width="1"/>
<polygon points="165.5,989.5 154.5,994.5 165.5,999.5 161.5,994.5" fill="#6A584B" stroke="#6A584B" stroke-width="1"/>
<text x="170.30" y="989.6" font-family='"Liberation Sans", sans-serif' font-size="13.4" fill="#000" textLength="73.89" lengthAdjust="spacingAndGlyphs">handleStep</text>
<line x1="153.5" y1="1023.5" x2="992.0" y2="1023.5" stroke="#6A584B" stroke-width="1"/>
<polygon points="980.5,1018.5 992.0,1023.5 980.5,1028.5 985.0,1023.5" fill="#6A584B" stroke="#6A584B" stroke-width="1"/>
<text x="160.80" y="1018.6" font-family='"Liberation Sans", sans-serif' font-size="13.4" fill="#000" textLength="135.38" lengthAdjust="spacingAndGlyphs">getInterpolatedState</text>
<line x1="153.5" y1="1052.5" x2="306.0" y2="1052.5" stroke="#6A584B" stroke-width="1"/>
<polygon points="294.5,1047.5 306.0,1052.5 294.5,1057.5 299.0,1052.5" fill="#6A584B" stroke="#6A584B" stroke-width="1"/>
<text x="160.80" y="1047.6" font-family='"Liberation Sans", sans-serif' font-size="13.4" fill="#000" textLength="134.19" lengthAdjust="spacingAndGlyphs">display current state</text>
<line x1="856.5" y1="1154.5" x2="992.0" y2="1154.5" stroke="#6A584B" stroke-width="1"/>
<polygon points="980.5,1149.5 992.0,1154.5 980.5,1159.5 985.0,1154.5" fill="#6A584B" stroke="#6A584B" stroke-width="1"/>
<text x="862.80" y="1149.6" font-family='"Liberation Sans", sans-serif' font-size="13.4" fill="#000" textLength="45.80" lengthAdjust="spacingAndGlyphs">update</text>
<line x1="846.5" y1="1183.5" x2="450.5" y2="1183.5" stroke="#6A584B" stroke-width="1"/>
<polygon points="461.5,1178.5 450.5,1183.5 461.5,1188.5 457.5,1183.5" fill="#6A584B" stroke="#6A584B" stroke-width="1"/>
<text x="465.30" y="1178.6" font-family='"Liberation Sans", sans-serif' font-size="13.4" fill="#000" textLength="73.89" lengthAdjust="spacingAndGlyphs">handleStep</text>
<line x1="449.5" y1="1212.5" x2="992.0" y2="1212.5" stroke="#6A584B" stroke-width="1"/>
<polygon points="980.5,1207.5 992.0,1212.5 980.5,1217.5 985.0,1212.5" fill="#6A584B" stroke="#6A584B" stroke-width="1"/>
<text x="455.80" y="1207.6" font-family='"Liberation Sans", sans-serif' font-size="13.4" fill="#000" textLength="135.38" lengthAdjust="spacingAndGlyphs">getInterpolatedState</text>
<line x1="449.5" y1="1241.5" x2="575.0" y2="1241.5" stroke="#6A584B" stroke-width="1"/>
<polygon points="563.5,1236.5 575.0,1241.5 563.5,1246.5 568.0,1241.5" fill="#6A584B" stroke="#6A584B" stroke-width="1"/>
<text x="455.80" y="1236.6" font-family='"Liberation Sans", sans-serif' font-size="13.4" fill="#000" textLength="107.86" lengthAdjust="spacingAndGlyphs">log current state</text>
<line x1="856.5" y1="1342.5" x2="992.0" y2="1342.5" stroke="#6A584B" stroke-width="1"/>
<polygon points="980.5,1337.5 992.0,1342.5 980.5,1347.5 985.0,1342.5" fill="#6A584B" stroke="#6A584B" stroke-width="1"/>
<text x="862.80" y="1337.6" font-family='"Liberation Sans", sans-serif' font-size="13.4" fill="#000" textLength="45.80" lengthAdjust="spacingAndGlyphs">update</text>
<line x1="846.5" y1="1371.5" x2="450.5" y2="1371.5" stroke="#6A584B" stroke-width="1"/>
<polygon points="461.5,1366.5 450.5,1371.5 461.5,1376.5 457.5,1371.5" fill="#6A584B" stroke="#6A584B" stroke-width="1"/>
<text x="465.30" y="1366.6" font-family='"Liberation Sans", sans-serif' font-size="13.4" fill="#000" textLength="73.89" lengthAdjust="spacingAndGlyphs">handleStep</text>
<line x1="449.5" y1="1400.5" x2="992.0" y2="1400.5" stroke="#6A584B" stroke-width="1"/>
<polygon points="980.5,1395.5 992.0,1400.5 980.5,1405.5 985.0,1400.5" fill="#6A584B" stroke="#6A584B" stroke-width="1"/>
<text x="455.80" y="1395.6" font-family='"Liberation Sans", sans-serif' font-size="13.4" fill="#000" textLength="135.38" lengthAdjust="spacingAndGlyphs">getInterpolatedState</text>
<line x1="449.5" y1="1430.5" x2="575.0" y2="1430.5" stroke="#6A584B" stroke-width="1"/>
<polygon points="563.5,1425.5 575.0,1430.5 563.5,1435.5 568.0,1430.5" fill="#6A584B" stroke="#6A584B" stroke-width="1"/>
<text x="455.80" y="1425.6" font-family='"Liberation Sans", sans-serif' font-size="13.4" fill="#000" textLength="107.86" lengthAdjust="spacingAndGlyphs">log current state</text>
<line x1="856.5" y1="1559.5" x2="992.0" y2="1559.5" stroke="#6A584B" stroke-width="1"/>
<polygon points="980.5,1554.5 992.0,1559.5 980.5,1564.5 985.0,1559.5" fill="#6A584B" stroke="#6A584B" stroke-width="1"/>
<text x="862.80" y="1554.6" font-family='"Liberation Sans", sans-serif' font-size="13.4" fill="#000" textLength="45.80" lengthAdjust="spacingAndGlyphs">update</text>
<line x1="846.5" y1="1588.5" x2="450.5" y2="1588.5" stroke="#6A584B" stroke-width="1"/>
<polygon points="461.5,1583.5 450.5,1588.5 461.5,1593.5 457.5,1588.5" fill="#6A584B" stroke="#6A584B" stroke-width="1"/>
<text x="465.30" y="1583.6" font-family='"Liberation Sans", sans-serif' font-size="13.4" fill="#000" textLength="73.89" lengthAdjust="spacingAndGlyphs">handleStep</text>
<line x1="449.5" y1="1617.5" x2="992.0" y2="1617.5" stroke="#6A584B" stroke-width="1"/>
<polygon points="980.5,1612.5 992.0,1617.5 980.5,1622.5 985.0,1617.5" fill="#6A584B" stroke="#6A584B" stroke-width="1"/>
<text x="455.80" y="1612.6" font-family='"Liberation Sans", sans-serif' font-size="13.4" fill="#000" textLength="135.38" lengthAdjust="spacingAndGlyphs">getInterpolatedState</text>
<line x1="449.5" y1="1646.5" x2="575.0" y2="1646.5" stroke="#6A584B" stroke-width="1"/>
<polygon points="563.5,1641.5 575.0,1646.5 563.5,1651.5 568.0,1646.5" fill="#6A584B" stroke="#6A584B" stroke-width="1"/>
<text x="455.80" y="1641.6" font-family='"Liberation Sans", sans-serif' font-size="13.4" fill="#000" textLength="107.86" lengthAdjust="spacingAndGlyphs">log current state</text>
<line x1="846.5" y1="1705.5" x2="154.5" y2="1705.5" stroke="#6A584B" stroke-width="1"/>
<polygon points="165.5,1700.5 154.5,1705.5 165.5,1710.5 161.5,1705.5" fill="#6A584B" stroke="#6A584B" stroke-width="1"/>
<text x="170.30" y="1700.6" font-family='"Liberation Sans", sans-serif' font-size="13.4" fill="#000" textLength="73.89" lengthAdjust="spacingAndGlyphs">handleStep</text>
<line x1="153.5" y1="1735.5" x2="992.0" y2="1735.5" stroke="#6A584B" stroke-width="1"/>
<polygon points="980.5,1730.5 992.0,1735.5 980.5,1740.5 985.0,1735.5" fill="#6A584B" stroke="#6A584B" stroke-width="1"/>
<text x="160.80" y="1730.6" font-family='"Liberation Sans", sans-serif' font-size="13.4" fill="#000" textLength="135.38" lengthAdjust="spacingAndGlyphs">getInterpolatedState</text>
<line x1="153.5" y1="1764.5" x2="306.0" y2="1764.5" stroke="#6A584B" stroke-width="1"/>
<polygon points="294.5,1759.5 306.0,1764.5 294.5,1769.5 299.0,1764.5" fill="#6A584B" stroke="#6A584B" stroke-width="1"/>
<text x="160.80" y="1759.6" font-family='"Liberation Sans", sans-serif' font-size="13.4" fill="#000" textLength="134.19" lengthAdjust="spacingAndGlyphs">display current state</text>
<line x1="841.5" y1="1823.5" x2="29.5" y2="1823.5" stroke="#6A584B" stroke-width="1"/>
<polygon points="40.5,1818.5 29.5,1823.5 40.5,1828.5 36.5,1823.5" fill="#6A584B" stroke="#6A584B" stroke-width="1"/>
<text x="50.30" y="1818.6" font-family='"Liberation Sans", sans-serif' font-size="13.4" fill="#000" textLength="65.05" lengthAdjust="spacingAndGlyphs">final state</text>
<polyline points="851.5,612.5 898.5,612.5 898.5,625.5 857.5,625.5" fill="none" stroke="#6A584B" stroke-width="1"/>
<polygon points="868.5,620.5 857.5,625.5 868.5,630.5 864.5,625.5" fill="#6A584B" stroke="#6A584B" stroke-width="1"/>
<text x="863" y="607.6" font-family='"Liberation Sans", sans-serif' font-size="13.4" fill="#000" textLength="117.88" lengthAdjust="spacingAndGlyphs">compute one step</text>
<polyline points="851.5,800.5 898.5,800.5 898.5,813.5 857.5,813.5" fill="none" stroke="#6A584B" stroke-width="1"/>
<polygon points="868.5,808.5 857.5,813.5 868.5,818.5 864.5,813.5" fill="#6A584B" stroke="#6A584B" stroke-width="1"/>
<text x="863" y="795.6" font-family='"Liberation Sans", sans-serif' font-size="13.4" fill="#000" textLength="117.88" lengthAdjust="spacingAndGlyphs">compute one step</text>
<polyline points="851.5,1106.5 898.5,1106.5 898.5,1119.5 857.5,1119.5" fill="none" stroke="#6A584B" stroke-width="1"/>
<polygon points="868.5,1114.5 857.5,1119.5 868.5,1124.5 864.5,1119.5" fill="#6A584B" stroke="#6A584B" stroke-width="1"/>
<text x="863" y="1101.6" font-family='"Liberation Sans", sans-serif' font-size="13.4" fill="#000" textLength="117.88" lengthAdjust="spacingAndGlyphs">compute one step</text>
<polyline points="851.5,1295.5 898.5,1295.5 898.5,1308.5 857.5,1308.5" fill="none" stroke="#6A584B" stroke-width="1"/>
<polygon points="868.5,1303.5 857.5,1308.5 868.5,1313.5 864.5,1308.5" fill="#6A584B" stroke="#6A584B" stroke-width="1"/>
<text x="863" y="1290.6" font-family='"Liberation Sans", sans-serif' font-size="13.4" fill="#000" textLength="117.88" lengthAdjust="spacingAndGlyphs">compute one step</text>
<polyline points="851.5,1512.5 898.5,1512.5 898.5,1525.5 857.5,1525.5" fill="none" stroke="#6A584B" stroke-width="1"/>
<polygon points="868.5,1520.5 857.5,1525.5 868.5,1530.5 864.5,1525.5" fill="#6A584B" stroke="#6A584B" stroke-width="1"/>
<text x="863" y="1507.6" font-family='"Liberation Sans", sans-serif' font-size="13.4" fill="#000" textLength="117.88" lengthAdjust="spacingAndGlyphs">compute one step</text>
</svg></body></html>
